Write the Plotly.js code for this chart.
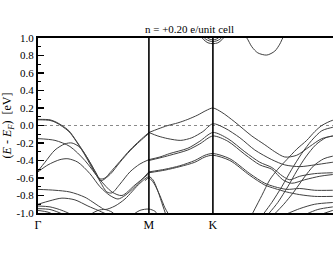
<!DOCTYPE html>
<html>
<head>
<meta charset="utf-8">
<script src="https://cdn.plot.ly/plotly-3.0.1.min.js"></script>
<style>
html,body{margin:0;padding:0;overflow:hidden;background:#fff;}
#chart{width:345px;height:258px;}
</style>
</head>
<body>
<div id="chart"></div>
<script>
// High-symmetry points along the path (Γ-M-K-Γ); the last Γ lies just past the visible edge
const kPoints = [0, 1.0, 1.577, 2.732];
const kTickVals = [0, 1.0, 1.577];
const kLabels = ['Γ', 'M', 'K'];
const yTickVals = [-1.0, -0.8, -0.6, -0.4, -0.2, 0.0, 0.2, 0.4, 0.6, 0.8, 1.0];
const yTickText = ['-1.0', '-0.8', '-0.6', '-0.4', '-0.2', '0.0', '0.2', '0.4', '0.6', '0.8', '1.0'];
const yMinorVals = [-0.9, -0.7, -0.5, -0.3, -0.1, 0.1, 0.3, 0.5, 0.7, 0.9];
const titleText = 'n = +0.20 e/unit cell';

// Bands: k positions and energies (eV)
const b1k = [0,0.108,0.162,0.216,0.279,0.342,0.405,0.468,0.523,0.559,0.604,0.649,0.739,0.829,0.919,1.0];
const b1e = [0.07,0.065,0.04,0.0,-0.06,-0.17,-0.29,-0.42,-0.54,-0.61,-0.6,-0.54,-0.41,-0.28,-0.17,-0.08];
const b2k = [0,0.108,0.162,0.279,0.405,0.523,0.568,0.649,0.739,0.829,0.919,1.0];
const b2e = [0.065,0.058,0.033,-0.07,-0.3,-0.56,-0.63,-0.56,-0.42,-0.29,-0.18,-0.09];
const b3k = [0,0.153,0.288,0.423,0.559,0.667,0.757,0.874,1.0];
const b3e = [-0.15,-0.17,-0.24,-0.4,-0.62,-0.76,-0.8,-0.68,-0.55];
const b4k = [0,0.063,0.153,0.243,0.306,0.378,0.468,0.559,0.622,0.667,0.739,0.829,0.919,1.0];
const b4e = [-0.52,-0.42,-0.28,-0.21,-0.2,-0.25,-0.42,-0.64,-0.76,-0.77,-0.67,-0.53,-0.44,-0.39];
const b5k = [0,0.09,0.198,0.27,0.36,0.468,0.559,0.649,0.721,0.784,0.874,1.0];
const b5e = [-0.53,-0.45,-0.39,-0.38,-0.42,-0.55,-0.7,-0.8,-0.84,-0.8,-0.7,-0.53];
const b6k = [0,0.153,0.288,0.423,0.559,0.604,0.694,0.784,0.919,1.0,1.036,1.081,1.126,1.153];
const b6e = [-0.73,-0.74,-0.76,-0.82,-0.93,-0.96,-0.92,-0.84,-0.66,-0.585,-0.62,-0.75,-0.92,-1.02];
const b7k = [0.964,1.0,1.045,1.099,1.144,1.18];
const b7e = [-0.63,-0.6,-0.66,-0.8,-0.94,-1.02];
const b8k = [0,0.108,0.216,0.333,0.45,0.541,0.631];
const b8e = [-0.9,-0.86,-0.83,-0.85,-0.92,-0.97,-1.02];
const b9k = [0,0.108,0.216,0.306];
const b9e = [-0.92,-0.93,-0.97,-1.02];
const b10k = [0,0.108,0.18,0.234];
const b10e = [-0.95,-0.96,-0.99,-1.02];
const b11k = [0,0.09,0.144];
const b11e = [-0.97,-0.99,-1.02];
const b12k = [0.468,0.541,0.604,0.667,0.694];
const b12e = [-1.02,-0.97,-0.96,-0.99,-1.02];
const b13k = [0.856,0.919,1.0,1.054,1.081];
const b13e = [-1.02,-0.97,-0.955,-0.98,-1.02];
const b14k = [1.0,1.081,1.171,1.261,1.351,1.441,1.514,1.577,1.658,1.775,1.928,2.045,2.135,2.225,2.333,2.45,2.559,2.658,2.732];
const b14e = [-0.08,-0.04,0.0,0.03,0.07,0.12,0.17,0.20,0.15,0.04,-0.12,-0.22,-0.3,-0.36,-0.34,-0.24,-0.15,-0.12,-0.11];
const b15k = [1.0,1.081,1.171,1.288,1.387,1.486,1.577,1.685,1.82,1.955,2.108,2.225,2.36,2.495,2.658,2.732];
const b15e = [-0.08,-0.12,-0.15,-0.17,-0.14,-0.07,0.02,-0.03,-0.14,-0.28,-0.39,-0.45,-0.47,-0.45,-0.42,-0.41];
const b16k = [1.0,1.099,1.189,1.351,1.459,1.577,1.712,1.865,2.0,2.108,2.207,2.27,2.36,2.495,2.658];
const b16e = [-0.39,-0.36,-0.32,-0.26,-0.18,-0.08,-0.15,-0.3,-0.42,-0.48,-0.58,-0.62,-0.58,-0.55,-0.54];
const b17k = [1.0,1.099,1.189,1.351,1.459,1.577,1.712,1.865,2.0,2.108,2.207,2.288,2.405,2.541,2.658];
const b17e = [-0.40,-0.37,-0.34,-0.28,-0.21,-0.12,-0.18,-0.33,-0.45,-0.5,-0.62,-0.66,-0.62,-0.58,-0.56];
const b18k = [1.0,1.144,1.279,1.414,1.505,1.577,1.73,1.91,2.045,2.135,2.243,2.36,2.495,2.658];
const b18e = [-0.53,-0.5,-0.46,-0.4,-0.34,-0.32,-0.38,-0.55,-0.66,-0.7,-0.73,-0.72,-0.74,-0.74];
const b19k = [1.0,1.144,1.279,1.414,1.505,1.577,1.73,1.91,2.045,2.135,2.243,2.36,2.495,2.658];
const b19e = [-0.54,-0.51,-0.47,-0.42,-0.36,-0.34,-0.4,-0.57,-0.68,-0.72,-0.76,-0.79,-0.81,-0.81];
const b20k = [1.928,2.018,2.09,2.162,2.243,2.333,2.423,2.495,2.559,2.658,2.732];
const b20e = [-1.02,-0.8,-0.62,-0.5,-0.39,-0.27,-0.17,-0.07,0.0,0.06,0.07];
const b21k = [2.027,2.108,2.198,2.288,2.378,2.468,2.559,2.658,2.732];
const b21e = [-1.02,-0.88,-0.7,-0.5,-0.32,-0.17,-0.06,-0.02,0.0];
const b22k = [2.072,2.162,2.252,2.333,2.414,2.505,2.595,2.658];
const b22e = [-1.02,-0.88,-0.7,-0.52,-0.36,-0.22,-0.14,-0.12];
const b23k = [2.126,2.216,2.306,2.396,2.486,2.577,2.658];
const b23e = [-1.02,-0.9,-0.76,-0.6,-0.46,-0.38,-0.35];
const b24k = [2.225,2.36,2.495,2.658];
const b24e = [-1.02,-0.95,-0.9,-0.88];
const b25k = [2.405,2.523,2.658];
const b25e = [-1.02,-0.96,-0.93];
const b26k = [2.541,2.658];
const b26e = [-1.02,-0.97];
const b27k = [1.450,1.495,1.532,1.577,1.622,1.658,1.703];
const b27e = [1.05,0.98,0.945,0.935,0.945,0.98,1.05];
const b28k = [1.477,1.514,1.577,1.640,1.676];
const b28e = [1.04,0.985,0.958,0.985,1.04];
const b29k = [1.505,1.541,1.577,1.613,1.649];
const b29e = [1.03,0.99,0.978,0.99,1.03];
const b30k = [1.847,1.883,1.928,1.982,2.063,2.135,2.18,2.207,2.234];
const b30e = [1.05,1.0,0.9,0.83,0.805,0.85,0.93,1.0,1.05];

const bands = [
  [b1k,b1e],[b2k,b2e],[b3k,b3e],[b4k,b4e],[b5k,b5e],[b6k,b6e],[b7k,b7e],[b8k,b8e],
  [b9k,b9e],[b10k,b10e],[b11k,b11e],[b12k,b12e],[b13k,b13e],[b14k,b14e],[b15k,b15e],
  [b16k,b16e],[b17k,b17e],[b18k,b18e],[b19k,b19e],[b20k,b20e],[b21k,b21e],[b22k,b22e],
  [b23k,b23e],[b24k,b24e],[b25k,b25e],[b26k,b26e],[b27k,b27e],[b28k,b28e],[b29k,b29e],[b30k,b30e]
];

const serif = "'Liberation Serif', 'Times New Roman', serif";

const traces = bands.map(([k, e]) => ({
  x: k, y: e, type: 'scatter', mode: 'lines',
  line: {color: '#404040', width: 1, shape: 'spline', smoothing: 0.8},
  hoverinfo: 'skip', showlegend: false
}));

const shapes = [
  {type: 'line', xref: 'x', yref: 'y', x0: kPoints[0], x1: kPoints[3], y0: 0, y1: 0,
   line: {color: '#8a8a8a', width: 1, dash: 'dot'}, layer: 'below'},
  ...kPoints.slice(1, 3).map(k => ({type: 'line', xref: 'x', yref: 'paper', x0: k, x1: k, y0: 0, y1: 1,
   line: {color: '#000', width: 1.6}}))
];

const layout = {
  width: 345, height: 258,
  margin: {l: 38, r: 4, t: 38, b: 45},
  paper_bgcolor: '#fff', plot_bgcolor: '#fff',
  title: {text: titleText, font: {family: serif, size: 11, color: '#000'},
          x: 0.5, xref: 'paper', xanchor: 'center', y: 1 - 29/258, yref: 'container', yanchor: 'middle'},
  xaxis: {range: [kPoints[0], kPoints[3]], showgrid: false, zeroline: false,
          showline: true, mirror: true, linecolor: '#000', linewidth: 2,
          tickvals: kTickVals, ticktext: kLabels, ticks: '',
          tickfont: {family: serif, size: 12, color: '#000'}},
  yaxis: {range: [-1, 1], showgrid: false, zeroline: false,
          showline: true, mirror: true, linecolor: '#000', linewidth: 2,
          tickvals: yTickVals, ticktext: yTickText, ticks: 'inside', ticklen: 6, tickwidth: 1.5, tickcolor: '#000',
          minor: {tickvals: yMinorVals, ticks: 'inside', ticklen: 3, tickwidth: 1, tickcolor: '#000'},
          tickfont: {family: serif, size: 11, color: '#000'},
          title: {text: '(<i>E</i> - <i>E</i><sub><i>F</i></sub>)  [eV]', font: {family: serif, size: 12, color: '#000'}, standoff: 6}},
  shapes: shapes
};

Plotly.newPlot('chart', traces, layout, {staticPlot: true, displayModeBar: false});
</script>
</body>
</html>
